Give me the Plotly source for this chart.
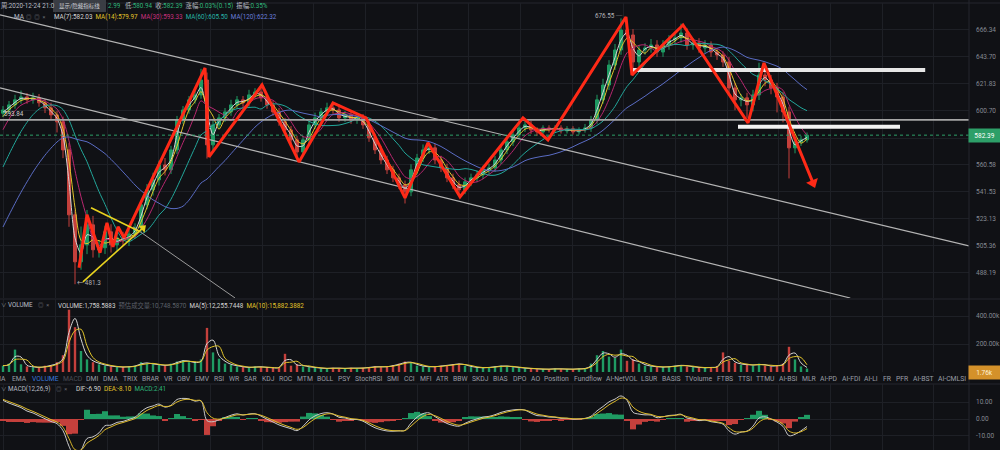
import math
import numpy as np
import pandas as pd
import plotly.graph_objects as go

# ---------------- data ----------------
history_closes = [440, 445, 452, 458, 465, 472, 480, 487, 495, 502,
                  508, 515, 522, 530, 540, 552, 565, 578, 590, 598]

opens = [599.0, 601.5, 605.4, 609.3, 611.6, 609.3, 610.9, 607.0, 603.1, 597.7,
         592.4, 571.5, 525.9, 495.2, 506.1, 519.2, 502.9, 504.2, 514.6, 506.1,
         510.6, 509.3, 513.2, 517.2, 532.7, 543.0, 550.0, 560.6, 557.1, 571.5,
         593.9, 601.5, 609.3, 613.2, 625.0, 575.2, 590.1, 595.4, 600.0, 605.4,
         609.3, 607.0, 613.2, 615.5, 610.9, 605.4, 600.0, 592.4, 586.3, 578.9,
         570.0, 578.9, 590.1, 595.4, 600.0, 603.1, 601.5, 595.4, 597.7, 593.9,
         595.4, 590.1, 580.4, 571.5, 564.2, 557.1, 551.4, 546.5, 541.6, 557.1,
         565.6, 571.5, 573.0, 564.2, 558.5, 551.4, 546.5, 543.0, 548.6, 551.4,
         553.5, 557.1, 558.5, 564.2, 571.5, 577.4, 582.6, 587.8, 590.1, 586.3,
         584.8, 587.8, 586.3, 587.8, 585.6, 587.1, 584.8, 586.3, 587.8, 593.9,
         609.3, 621.0, 637.1, 649.5, 666.3, 662.1, 639.6, 649.5, 651.2, 653.7,
         647.8, 653.7, 657.9, 659.6, 663.8, 653.7, 655.4, 651.2, 653.7, 647.8,
         645.3, 639.6, 618.7, 609.3, 610.9, 605.4, 613.2, 629.0, 625.0, 618.7,
         611.6, 600.0, 573.0, 577.4, 578.9]

closes = [601.5, 605.4, 609.3, 611.6, 609.3, 610.9, 607.0, 603.1, 597.7, 592.4,
          571.5, 525.9, 495.2, 506.1, 519.2, 502.9, 504.2, 514.6, 506.1, 510.6,
          509.3, 513.2, 517.2, 532.7, 543.0, 550.0, 560.6, 557.1, 571.5, 593.9,
          601.5, 609.3, 613.2, 625.0, 575.2, 590.1, 595.4, 600.0, 605.4, 609.3,
          607.0, 613.2, 615.5, 610.9, 605.4, 600.0, 592.4, 586.3, 578.9, 570.0,
          578.9, 590.1, 595.4, 600.0, 603.1, 601.5, 595.4, 597.7, 593.9, 595.4,
          590.1, 580.4, 571.5, 564.2, 557.1, 551.4, 546.5, 541.6, 557.1, 565.6,
          571.5, 573.0, 564.2, 558.5, 551.4, 546.5, 543.0, 548.6, 551.4, 553.5,
          557.1, 558.5, 564.2, 571.5, 577.4, 582.6, 587.8, 590.1, 586.3, 584.8,
          587.8, 586.3, 587.8, 585.6, 587.1, 584.8, 586.3, 587.8, 593.9, 609.3,
          621.0, 637.1, 649.5, 666.3, 662.1, 639.6, 649.5, 651.2, 653.7, 647.8,
          653.7, 657.9, 659.6, 663.8, 653.7, 655.4, 651.2, 653.7, 647.8, 645.3,
          639.6, 618.7, 609.3, 610.9, 605.4, 613.2, 629.0, 625.0, 618.7, 611.6,
          600.0, 573.0, 577.4, 578.9, 582.39]

upper_wick = [3, 3, 4, 5, 3, 4, 3, 3, 4, 3,
              4, 5, 3, 12, 10, 6, 5, 4, 5, 4,
              4, 3, 3, 3, 4, 5, 3, 5, 3, 3,
              3, 3, 4, 9, 6, 4, 3, 3, 4, 3,
              3, 4, 3, 6, 3, 3, 3, 3, 3, 3,
              3, 3, 4, 3, 4, 3, 4, 3, 3, 3,
              3, 3, 3, 3, 3, 3, 3, 3, 4, 3,
              4, 3, 3, 3, 3, 3, 3, 3, 3, 3,
              3, 3, 3, 3, 3, 3, 3, 3, 3, 2,
              2, 2, 2, 2, 2, 2, 2, 3, 3, 4,
              5, 4, 5, 10, 6, 5, 4, 4, 5, 4,
              4, 4, 4, 8, 4, 4, 4, 4, 3, 3,
              3, 4, 4, 3, 4, 4, 10, 4, 4, 4,
              4, 4, 3, 3, 2]

lower_wick = [3, 3, 3, 3, 3, 3, 3, 4, 4, 8,
              6, 8, 14, 5, 6, 5, 5, 4, 5, 4,
              4, 4, 3, 3, 3, 4, 4, 4, 3, 3,
              3, 3, 3, 3, 10, 4, 3, 3, 3, 3,
              3, 3, 3, 3, 3, 3, 3, 3, 3, 3,
              3, 3, 3, 3, 3, 3, 3, 3, 3, 3,
              3, 3, 3, 3, 3, 3, 3, 8, 3, 3,
              3, 3, 3, 3, 3, 3, 4, 3, 3, 3,
              3, 3, 3, 3, 3, 3, 3, 3, 3, 3,
              2, 2, 2, 2, 2, 2, 2, 2, 3, 3,
              3, 4, 4, 4, 4, 11, 4, 4, 4, 4,
              4, 4, 4, 4, 4, 4, 4, 4, 4, 4,
              4, 6, 8, 5, 10, 5, 4, 5, 5, 12,
              8, 22, 4, 3, 2]

volumes_k = [45, 60, 160, 55, 40, 35, 30, 45, 50, 70,
             120, 445, 320, 150, 90, 70, 55, 45, 40, 35,
             35, 40, 45, 70, 60, 55, 50, 45, 60, 75,
             85, 70, 65, 90, 315, 140, 95, 60, 50, 40,
             35, 30, 40, 35, 30, 30, 35, 130, 45, 55,
             40, 35, 30, 25, 25, 30, 25, 25, 30, 25,
             30, 35, 40, 35, 40, 50, 60, 75, 65, 45,
             40, 35, 40, 45, 50, 55, 60, 45, 35, 30,
             30, 35, 40, 45, 40, 35, 30, 25, 25, 20,
             20, 20, 25, 20, 20, 20, 25, 25, 60, 120,
             150, 110, 100, 160, 80, 90, 60, 45, 40, 35,
             35, 40, 45, 50, 40, 35, 30, 30, 35, 40,
             140, 80, 65, 50, 55, 45, 60, 45, 40, 50,
             60, 180, 90, 40, 25]

price_tick_vals = [666.34, 643.70, 621.83, 600.70, 580.27, 560.58, 541.53, 523.13, 505.36, 488.19]
price_tick_text = ["666.34", "643.70", "621.83", "600.70", "", "560.58", "541.53", "523.13", "505.36", "488.19"]
volume_tick_vals = [200, 400]
volume_tick_text = ["200.00k", "400.00k"]
macd_tick_vals = [-10, 0, 10]
macd_tick_text = ["-10.00", "0.00", "10.00"]

last_price = 582.39
level_price = 593.84
peak_label = "676.55"
low_label = "481.3"

# drawn objects (candle index, price)
zigzag_idx = [12.67, 14.0, 16.17, 17.33, 18.33, 19.17, 20.17, 33.67, 34.33, 43.17, 49.33, 55.0,
              60.5, 67.0, 70.83, 76.17, 86.67, 90.83, 103.83, 104.83, 113.33, 124.17, 126.83, 135.0]
zigzag_price = [491.5, 525.9, 501.0, 520.5, 504.8, 517.9, 510.6, 634.7, 566.4, 621.0, 562.8, 607.0,
                595.4, 537.5, 576.7, 538.2, 595.4, 578.9, 677.5, 629.0, 670.6, 591.6, 638.8, 547.9]
tri_upper_idx = [14.67, 22.83]
tri_upper_price = [530.7, 514.6]
tri_lower_idx = [13.33, 23.33]
tri_lower_price = [482.7, 517.2]
channel_a_idx = [-0.5, 161.0]
channel_a_price = [679.3, 505.4]
channel_b_idx = [-0.5, 141.2]
channel_b_price = [618.7, 472.8]
channel_c_idx = [21.67, 38.67]
channel_c_price = [517.9, 472.8]
resist_idx = [105.0, 153.7]
resist_price = [633.1, 633.1]
support_idx = [122.5, 149.5]
support_price = [588.6, 588.6]

# ---------------- styling ----------------
BG = "#101115"
GRID = "#1e2026"
AXC = "#858992"
TXT = "#b9bdc5"
G = "#1f9b63"
R = "#c5403c"
FONT = "Roboto, 'Noto Sans CJK SC', sans-serif"
MA_COLORS = ["#d6d6d6", "#e3c62a", "#b8276f", "#22a69a", "#5a6cc4"]
MA_WINDOWS = [2, 3, 5, 10, 20]

n = len(closes)
xs = list(range(n))
highs = [max(o, c) + u for o, c, u in zip(opens, closes, upper_wick)]
lows = [min(o, c) - d for o, c, d in zip(opens, closes, lower_wick)]
nh = len(history_closes)
full = pd.Series(history_closes + closes, dtype=float)

fig = go.Figure()

fig.add_trace(go.Candlestick(
    x=xs, open=opens, high=highs, low=lows, close=closes, xaxis="x", yaxis="y",
    increasing=dict(line=dict(color=G, width=1), fillcolor=G),
    decreasing=dict(line=dict(color=R, width=1), fillcolor=R),
    whiskerwidth=0, hoverinfo="skip"))

for w, col in zip(MA_WINDOWS, MA_COLORS):
    ma = full.rolling(w).mean().iloc[nh:].to_numpy()
    fig.add_trace(go.Scatter(x=xs, y=ma, mode="lines", xaxis="x", yaxis="y",
                             line=dict(color=col, width=1, shape="spline", smoothing=0.8),
                             hoverinfo="skip"))

def line(xv, yv, color, width, dash=None, yaxis="y"):
    fig.add_trace(go.Scatter(x=xv, y=yv, mode="lines", xaxis="x", yaxis=yaxis,
                             line=dict(color=color, width=width, dash=dash), hoverinfo="skip"))

line(channel_a_idx, channel_a_price, "#b4b4b4", 1.2)
line(channel_b_idx, channel_b_price, "#b4b4b4", 1.2)
line(channel_c_idx, channel_c_price, "#9a9a9a", 1.0)
line([-0.5, 161.0], [level_price, level_price], "#a5a5a5", 1.8)
line([-0.5, 161.0], [last_price, last_price], "#2d9f68", 1, dash="3px,3px")
line(resist_idx, resist_price, "#e6e6e6", 4)
line(support_idx, support_price, "#f2f2f2", 4)
line(zigzag_idx, zigzag_price, "#ff2a17", 3)
fig.add_trace(go.Scatter(x=[zigzag_idx[-1]], y=[zigzag_price[-1]], mode="markers", xaxis="x", yaxis="y",
                         marker=dict(symbol="triangle-up", size=11, angle=158, color="#ff2a17"),
                         hoverinfo="skip"))
line(tri_upper_idx, tri_upper_price, "#e8d21f", 1.6)
line(tri_lower_idx, tri_lower_price, "#e8d21f", 1.6)
fig.add_trace(go.Scatter(x=[tri_lower_idx[-1]], y=[tri_lower_price[-1]], mode="markers", xaxis="x", yaxis="y",
                         marker=dict(symbol="triangle-up", size=8, angle=48, color="#e8d21f"),
                         hoverinfo="skip"))

# volume
vcolors = [G if c >= o else R for o, c in zip(opens, closes)]
fig.add_trace(go.Bar(x=xs, y=volumes_k, marker=dict(color=vcolors, line=dict(width=0)), width=0.4,
                     xaxis="x2", yaxis="y2", hoverinfo="skip"))
vol = pd.Series(volumes_k, dtype=float)
fig.add_trace(go.Scatter(x=xs, y=vol.rolling(2, min_periods=1).mean(), mode="lines", xaxis="x2", yaxis="y2",
                         line=dict(color="#d6d6d6", width=1, shape="spline"), hoverinfo="skip"))
fig.add_trace(go.Scatter(x=xs, y=vol.rolling(3, min_periods=1).mean(), mode="lines", xaxis="x2", yaxis="y2",
                         line=dict(color="#e3c62a", width=1, shape="spline"), hoverinfo="skip"))

# MACD (12, 26, 9) rescaled to this candle spacing
ema_f = full.ewm(span=11 / 6 + 1, adjust=False).mean()
ema_s = full.ewm(span=25 / 6 + 1, adjust=False).mean()
dif = ema_f - ema_s
dea = dif.ewm(span=8 / 6 + 1, adjust=False).mean()
hist = 2 * (dif - dea)
dif_v, dea_v, hist_v = dif.iloc[nh:].to_numpy(), dea.iloc[nh:].to_numpy(), hist.iloc[nh:].to_numpy()
fig.add_trace(go.Bar(x=xs, y=hist_v, marker=dict(color=[G if h >= 0 else R for h in hist_v], line=dict(width=0)),
                     width=1.0, xaxis="x3", yaxis="y3", hoverinfo="skip"))
fig.add_trace(go.Scatter(x=xs, y=dif_v, mode="lines", xaxis="x3", yaxis="y3",
                         line=dict(color="#c9c9c9", width=1, shape="spline"), hoverinfo="skip"))
fig.add_trace(go.Scatter(x=xs, y=dea_v, mode="lines", xaxis="x3", yaxis="y3",
                         line=dict(color="#dcb92a", width=1, shape="spline"), hoverinfo="skip"))

# ---------------- layout ----------------
def py(y):
    return 1 - y / 450.0

xcommon = dict(showticklabels=False, showgrid=True, gridcolor=GRID, gridwidth=1, zeroline=False,
               showline=False, tickmode="linear", tick0=8.75, dtick=51.67 / 6, range=[-0.5, 161.0],
               domain=[0, 0.969], fixedrange=True, ticks="")
ycommon = dict(side="right", tickmode="array", tickfont=dict(size=6.5, color=AXC, family=FONT),
               showgrid=True, gridcolor=GRID, gridwidth=1, zeroline=False, showline=False,
               automargin=False, fixedrange=True, ticklabelstandoff=6)

fig.update_layout(
    width=1000, height=450, margin=dict(l=0, r=0, t=0, b=0),
    paper_bgcolor=BG, plot_bgcolor=BG, showlegend=False, hovermode=False, dragmode=False,
    xaxis=dict(**xcommon, anchor="y", rangeslider=dict(visible=False)),
    xaxis2=dict(**xcommon, anchor="y2"),
    xaxis3=dict(**xcommon, anchor="y3"),
    yaxis=dict(**ycommon, type="log", domain=[py(298), py(3)], range=[2.67466, 2.83870],
               tickvals=price_tick_vals, ticktext=price_tick_text, anchor="x"),
    yaxis2=dict(**ycommon, domain=[py(372), py(299)], range=[0, 521.4],
                tickvals=volume_tick_vals, ticktext=volume_tick_text, anchor="x2"),
    yaxis3=dict(**ycommon, domain=[0, py(384)], range=[-18.24, 20.59],
                tickvals=macd_tick_vals, ticktext=macd_tick_text, anchor="x3"),
)

shapes = []
for yy in [3, 299, 384]:
    shapes.append(dict(type="line", xref="paper", yref="paper", x0=0, x1=1, y0=py(yy), y1=py(yy),
                       line=dict(color="#25272e", width=1), layer="below"))
shapes.append(dict(type="line", xref="paper", yref="paper", x0=0.969, x1=0.969, y0=0, y1=1,
                   line=dict(color="#25272e", width=1)))
shapes.append(dict(type="rect", xref="paper", yref="paper", x0=0.053, x1=0.106, y0=py(12), y1=py(0),
                   fillcolor="#3a3d44", line=dict(width=0)))
fig.update_layout(shapes=shapes)

anns = []
def ann(text, x, y, color, size=6.5, xanchor="left", **kw):
    anns.append(dict(text=text, x=x / 1000.0, y=py(y), xref="paper", yref="paper", xanchor=xanchor,
                     yanchor="middle", showarrow=False, font=dict(color=color, size=size, family=FONT),
                     borderpad=0, **kw))

def span(t, c):
    return f'<span style="color:{c}">{t}</span>'

SP = "\u00a0"
GREEN_T = "#2fb67a"
ICON = "#6b6f77"
# header line 1
ann("周:2020-12-24 21:0", 0, 6, TXT, size=6.3)
ann("显示/隐藏指标线", 79.5, 6, "#cfd2d8", size=5.5, xanchor="center")
ann(span("2.99", GREEN_T) + SP * 3 + span("低:", TXT) + span("580.94", GREEN_T) + SP * 2
    + span("收:", TXT) + span("582.39", GREEN_T) + SP * 2 + span("涨幅:", TXT)
    + span("0.03%(0.15)", GREEN_T) + SP * 2 + span("振幅:", TXT) + span("0.35%", GREEN_T),
    107, 6, TXT, size=6.3)
# header line 2
ann("MA", 13, 17, TXT)
ann("◎" + SP * 2 + "◎" + SP * 2 + "×", 25, 17, ICON, size=5.5)
ann(span("MA(7):582.03", MA_COLORS[0]) + SP * 2 + span("MA(14):579.97", MA_COLORS[1]) + SP * 2
    + span("MA(30):593.33", "#c8307e") + SP * 2 + span("MA(60):605.50", "#27b3a6") + SP * 2
    + span("MA(120):622.32", "#6a7fdc"), 53, 17, TXT, size=6.3)
# volume header
ann("∨", 0, 305, "#8a8e96", size=5.5)
ann("VOLUME", 7, 305, TXT, size=6.3)
ann("◎" + SP * 2 + "×", 37, 305, ICON, size=5.5)
ann(span("VOLUME:1,758.5883", "#d6d6d6") + SP * 2 + span("预估成交量:10,748.5870", "#5d616a") + SP * 2
    + span("MA(5):12,255.7448", "#d6d6d6") + SP * 2 + span("MA(10):15,882.3882", "#e3c62a"),
    57, 305, TXT, size=6.3)
# MACD header
ann("∨", 0, 389, "#8a8e96", size=5.5)
ann("MACD(12,26,9)", 7, 389, TXT, size=6.3)
ann("◎" + SP * 2 + "×", 55, 389, ICON, size=5.5)
ann(span("DIF:-6.90", "#d6d6d6") + SP * 2 + span("DEA:-8.10", "#e3c62a") + SP * 2 + span("MACD:2.41", GREEN_T),
    75, 389, TXT, size=6.3)

# indicator tabs
tab_names = ["MA", "EMA", "VOLUME", "MACD", "DMI", "DMA", "TRIX", "BRAR", "VR", "OBV", "EMV", "RSI", "WR",
             "SAR", "KDJ", "ROC", "MTM", "BOLL", "PSY", "StochRSI", "SMI", "CCI", "MFI", "ATR", "BBW", "SKDJ",
             "BIAS", "DPO", "AO", "Position", "Fundflow", "AI-NetVOL", "LSUR", "BASIS", "TVolume", "FTBS",
             "TTSI", "TTMU", "AI-BSI", "MLR", "AI-PD", "AI-FDI", "AI-LI", "FR", "PFR", "AI-BST", "AI-CMLSI"]
tab_x = [-6, 11, 31, 62, 85, 102, 122, 141, 163, 176, 194, 213, 228, 243, 261, 278, 296, 316, 337, 354,
         386, 403, 419, 435, 452, 471, 492, 512, 530, 543, 573, 605, 640, 661, 684, 716, 737, 755, 778,
         801, 819, 841, 863, 882, 895, 912, 937]
for name, tx in zip(tab_names, tab_x):
    col = "#3a78d8" if name == "VOLUME" else ("#4a4d55" if name == "MACD" else "#9a9ea6")
    ann(name, tx, 379, col, size=6.8)

# chart labels
ann(f"{level_price:.2f}", 3, 114, "#cfcfcf", size=6.3)
ann(peak_label + " ─", 624, 16, "#b5b5b5", size=6.3, xanchor="right")
ann("← " + low_label, 76, 283, "#b5b5b5", size=6.3)

# price tag and volume tag
anns.append(dict(text=f"{last_price:.2f}", x=0.9845, y=math.log10(last_price), xref="paper", yref="y",
                 xanchor="center", yanchor="middle", showarrow=False, bgcolor="#2d9f68",
                 width=29, height=11, font=dict(color="#ffffff", size=6.5, family=FONT)))
anns.append(dict(text="1.76k", x=0.9845, y=py(372), xref="paper", yref="paper",
                 xanchor="center", yanchor="middle", showarrow=False, bgcolor="#d4912a",
                 width=29, height=11, font=dict(color="#fff4dc", size=6.5, family=FONT)))
fig.update_layout(annotations=anns)

fig.write_html("out.html")
